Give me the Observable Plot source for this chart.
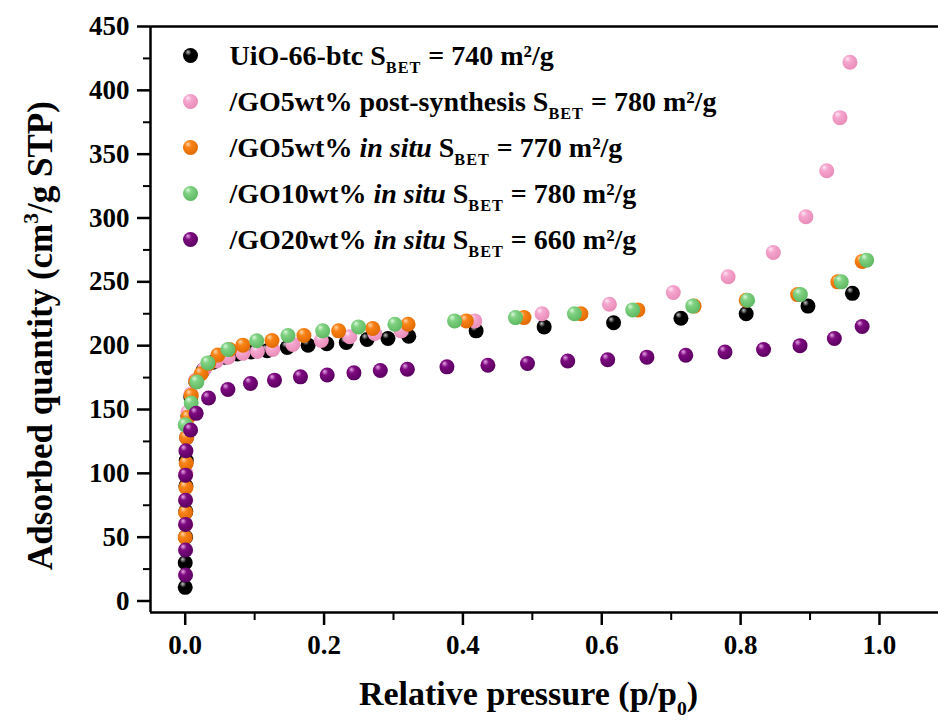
<!DOCTYPE html>
<html><head><meta charset="utf-8">
<script src="https://cdn.jsdelivr.net/npm/d3@7"></script>
<script src="https://cdn.jsdelivr.net/npm/@observablehq/plot@0.6"></script>
<style>body{margin:0;background:#fff}#chart{width:938px;height:723px}</style>
</head><body><div id="chart"></div>
<script>
// ---------- data ----------
const seriesLabels = [
  "UiO-66-btc S_{BET} = 740 m²/g",
  "/GO5wt% post-synthesis S_{BET} = 780 m²/g",
  "/GO5wt% *in situ* S_{BET} = 770 m²/g",
  "/GO10wt% *in situ* S_{BET} = 780 m²/g",
  "/GO20wt% *in situ* S_{BET} = 660 m²/g"
];
const seriesColors = ["#000000", "#f5a6cf", "#f98316", "#80d282", "#7e0a80"];
const seriesHighlights = ["#c8c8c8", "#fde8f3", "#ffd8b0", "#dcf7dc", "#e8a8e8"];
const seriesShades = ["#000000", "#e88cb8", "#e06a00", "#5fb862", "#5a0060"];

const blackX = [0, 0, 0.0005, 0.0008, 0.001, 0.0015, 0.002, 0.004, 0.008, 0.015, 0.026, 0.040, 0.057, 0.075, 0.095, 0.118, 0.147, 0.177, 0.204, 0.232, 0.262, 0.292, 0.322, 0.419, 0.517, 0.617, 0.714, 0.808, 0.897, 0.961];
const blackY = [10.7, 30, 50, 70, 90, 110, 128, 145, 160, 172, 181, 187, 191, 193.5, 195, 196, 198.6, 200.4, 201.5, 202.5, 204.8, 205.6, 207.4, 211.6, 214.7, 218, 221.5, 225, 231, 241];

const pinkX = [0.0005, 0.001, 0.002, 0.004, 0.008, 0.015, 0.028, 0.045, 0.062, 0.083, 0.104, 0.126, 0.155, 0.196, 0.237, 0.273, 0.311, 0.417, 0.514, 0.611, 0.703, 0.782, 0.847, 0.894, 0.924, 0.943, 0.9575];
const pinkY = [60, 100, 128, 148, 162, 173, 182, 188, 191, 194, 195.5, 197, 201, 204, 207, 209.5, 211.6, 219.4, 225, 232.5, 241.6, 254, 273, 301, 337, 378.6, 422];

const orangeX = [0, 0.0005, 0.001, 0.0015, 0.002, 0.004, 0.0086, 0.015, 0.023, 0.034, 0.047, 0.064, 0.083, 0.125, 0.171, 0.221, 0.270, 0.321, 0.405, 0.488, 0.570, 0.652, 0.733, 0.808, 0.882, 0.940, 0.975];
const orangeY = [49.8, 69.4, 89, 108, 128, 144, 161, 172, 178, 186, 192.6, 197, 200.4, 204, 208, 211.6, 213.5, 216.8, 219.4, 222, 225, 228, 231, 235.6, 240, 250, 266];

const greenX = [0, 0.0086, 0.0168, 0.0326, 0.0615, 0.103, 0.148, 0.198, 0.2496, 0.302, 0.388, 0.4757, 0.5606, 0.6446, 0.731, 0.810, 0.886, 0.945, 0.9815];
const greenY = [138, 155, 171.6, 186.5, 197, 203.8, 208, 211.6, 214.7, 216.8, 219.4, 222, 225, 228, 231, 235.6, 240, 250, 267];

const purpleX = [0.0005, 0.0005, 0.0005, 0.0005, 0.0005, 0.001, 0.0077, 0.0158, 0.0336, 0.0615, 0.094, 0.1286, 0.166, 0.2045, 0.243, 0.281, 0.320, 0.377, 0.436, 0.493, 0.551, 0.6085, 0.665, 0.721, 0.7775, 0.833, 0.8855, 0.935, 0.975];
const purpleY = [20.4, 40, 60, 79, 98.6, 117.7, 134, 147, 159, 165.7, 170.4, 173, 175.6, 177, 178.7, 180.5, 181.5, 183.4, 184.7, 186, 188, 189, 191, 192.5, 195, 197, 200, 205.6, 215];

const xTicks = [0, 0.2, 0.4, 0.6, 0.8, 1.0];
const xMinorTicks = [0.1, 0.3, 0.5, 0.7, 0.9];
const yTicks = [0, 50, 100, 150, 200, 250, 300, 350, 400, 450];
const yMinorTicks = [25, 75, 125, 175, 225, 275, 325, 375, 425];
const xLabel = "Relative pressure (p/p_{0})";
const yLabel = "Adsorbed quantity (cm^{3}/g STP)";

// ---------- layout ----------
const W = 938, H = 723, mL = 150, mR = 0, mT = 26, mB = 111;
const xDom = [-0.05, 1.085], yDom = [-9, 450];
const px2x = px => xDom[0] + (px - mL) / (W - mR - mL) * (xDom[1] - xDom[0]);
const py2y = py => yDom[1] - (py - mT) / (H - mB - mT) * (yDom[1] - yDom[0]);
const xPerPx = (xDom[1] - xDom[0]) / (W - mR - mL);
const yPerPx = (yDom[1] - yDom[0]) / (H - mB - mT);

const seriesXs = [blackX, pinkX, orangeX, greenX, purpleX];
const seriesYs = [blackY, pinkY, orangeY, greenY, purpleY];
const series = seriesXs.map((xs, k) => xs.map((x, i) => ({x, y: seriesYs[k][i]})));

const FONT = "'Liberation Serif','Times New Roman',serif";
const R = 7.5;

const marks = [];
// frame (top, left, bottom)
marks.push(Plot.ruleY([yDom[1]], {stroke: "#000", strokeWidth: 2.5}));
marks.push(Plot.ruleY([yDom[0]], {stroke: "#000", strokeWidth: 2.5}));
marks.push(Plot.ruleX([xDom[0]], {stroke: "#000", strokeWidth: 2.5}));
// minor ticks
marks.push(Plot.ruleY(yMinorTicks, {y: d => d, x1: () => xDom[0], x2: () => xDom[0] - 7 * xPerPx, stroke: "#000", strokeWidth: 2}));
marks.push(Plot.ruleX(xMinorTicks, {x: d => d, y1: () => yDom[0], y2: () => yDom[0] - 8 * yPerPx, stroke: "#000", strokeWidth: 2}));
// data
series.forEach((s, k) => {
  marks.push(Plot.dot(s, {x: "x", y: "y", r: R, fill: seriesColors[k]}));
});
// legend
seriesLabels.forEach((lab, k) => {
  const rowY = 55 + k * 46;
  marks.push(Plot.dot([lab], {x: () => px2x(190), y: () => py2y(rowY), r: R, fill: seriesColors[k]}));
  marks.push(Plot.text([lab], {x: () => px2x(229), y: () => py2y(rowY + 1), text: d => d, textAnchor: "start", fontSize: 28, fontWeight: "bold"}));
});
// axis titles
marks.push(Plot.text([xLabel], {x: () => px2x(528), y: () => py2y(694), text: d => d, fontSize: 34, fontWeight: "bold"}));
marks.push(Plot.text([yLabel], {x: () => px2x(40), y: () => py2y(335), text: d => d, fontSize: 35, fontWeight: "bold", rotate: -90}));

const svg = Plot.plot({
  width: W, height: H,
  marginLeft: mL, marginRight: mR, marginTop: mT, marginBottom: mB,
  x: {domain: xDom, ticks: xTicks, tickFormat: d => d.toFixed(1), tickSize: 13, tickPadding: 9, label: null},
  y: {domain: yDom, ticks: yTicks, tickSize: 13, tickPadding: 8, label: null},
  style: {fontFamily: FONT, fontWeight: "bold", fontSize: "27px", background: "#fff", color: "#000", overflow: "visible"},
  marks
});

// ---------- post-processing: sphere shading, rich text, tick width ----------
const ns = "http://www.w3.org/2000/svg";
const defs = document.createElementNS(ns, "defs");
svg.insertBefore(defs, svg.firstChild);
const gradMap = {};
seriesColors.forEach((c, k) => {
  const g = document.createElementNS(ns, "radialGradient");
  g.setAttribute("id", "sph" + k);
  g.setAttribute("cx", "0.42"); g.setAttribute("cy", "0.38"); g.setAttribute("r", "0.62");
  g.setAttribute("fx", "0.32"); g.setAttribute("fy", "0.26");
  [[0, seriesHighlights[k]], [0.35, c], [1, seriesShades[k]]].forEach(([o, col]) => {
    const s = document.createElementNS(ns, "stop");
    s.setAttribute("offset", o); s.setAttribute("stop-color", col);
    g.appendChild(s);
  });
  defs.appendChild(g);
  gradMap[d3.color(c).formatHex()] = "url(#sph" + k + ")";
});
svg.querySelectorAll("[fill]").forEach(el => {
  const f = el.getAttribute("fill");
  const c = d3.color(f);
  if (c && gradMap[c.formatHex()] && (el.tagName === "circle" || el.querySelector("circle"))) el.setAttribute("fill", gradMap[c.formatHex()]);
});

function parseMarkup(s) {
  const parts = []; let buf = "", italic = false, i = 0;
  while (i < s.length) {
    const c = s[i];
    if ((c === "_" || c === "^") && s[i + 1] === "{") {
      if (buf) parts.push({t: buf, italic}); buf = "";
      const j = s.indexOf("}", i);
      parts.push({t: s.slice(i + 2, j), italic, shift: c === "_" ? "sub" : "sup"});
      i = j + 1; continue;
    }
    if (c === "*") { if (buf) parts.push({t: buf, italic}); buf = ""; italic = !italic; i++; continue; }
    buf += c; i++;
  }
  if (buf) parts.push({t: buf, italic});
  return parts;
}
svg.querySelectorAll("text").forEach(t => {
  const s = t.textContent;
  if (!/[_^]\{|\*/.test(s)) return;
  const fs = parseFloat(t.getAttribute("font-size") || t.parentNode.getAttribute("font-size") || 26);
  t.textContent = "";
  let shifted = 0;
  parseMarkup(s).forEach(p => {
    const ts = document.createElementNS(ns, "tspan");
    ts.textContent = p.t;
    if (p.italic) ts.setAttribute("font-style", "italic");
    let target = 0;
    if (p.shift === "sub") { target = fs * 0.28; ts.setAttribute("font-size", fs * 0.58); if (p.t === "BET") ts.setAttribute("letter-spacing", "1"); }
    if (p.shift === "sup") { target = -fs * 0.38; ts.setAttribute("font-size", fs * 0.62); }
    if (target !== shifted) { ts.setAttribute("dy", target - shifted); shifted = target; }
    t.appendChild(ts);
  });
});
svg.querySelectorAll('[aria-label^="x-axis"], [aria-label^="y-axis"]').forEach(g => {
  g.setAttribute("stroke-width", 2.5);
  g.querySelectorAll("line, path").forEach(l => l.setAttribute("stroke-width", 2.5));
});
document.getElementById("chart").appendChild(svg);
</script>
</body></html>
